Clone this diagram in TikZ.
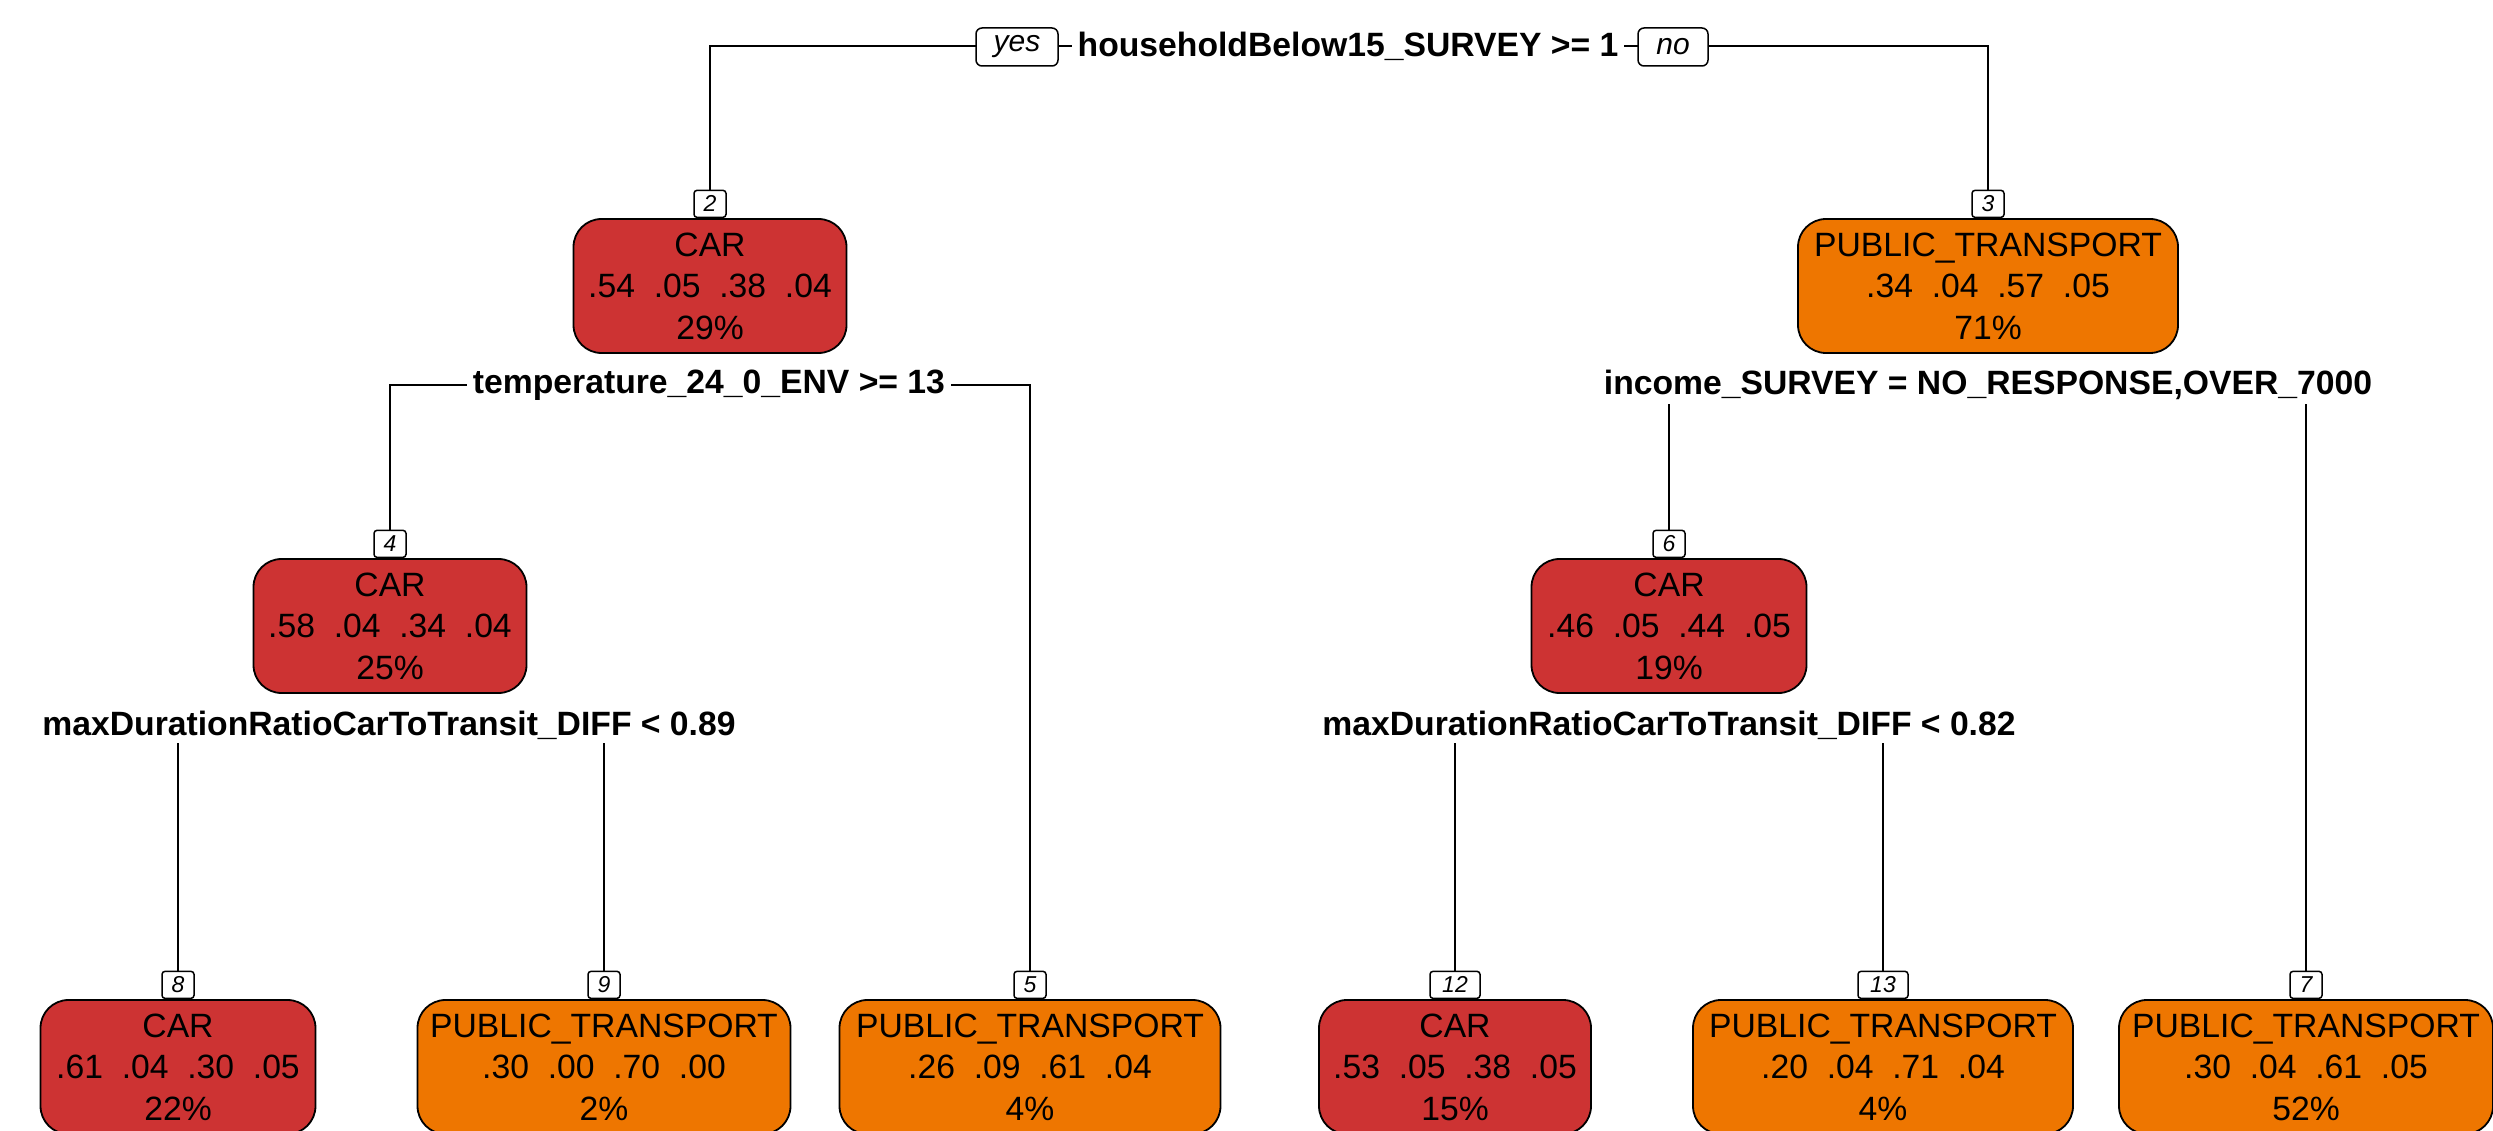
\documentclass[tikz,border=0pt]{standalone}
\usepackage{fontspec}
\setmainfont{Liberation Sans}
\definecolor{carred}{RGB}{205,51,51}
\definecolor{ptorange}{RGB}{238,118,0}
\pgfdeclarelayer{bg}
\pgfdeclarelayer{lines}
\pgfsetlayers{bg,lines,main}
\tikzset{
 leafbox/.style={draw=black, line width=1.8pt, rounded corners=28pt, minimum height=134pt, inner sep=0pt, align=center, font=\fontsize{33.7}{41.5}\selectfont},
 carbox/.style={leafbox, fill=carred},
 ptbox/.style={leafbox, fill=ptorange},
 idbox/.style={draw, line width=1.5pt, fill=white, rounded corners=3pt, inner sep=0pt, minimum height=27pt, minimum width=32pt, font=\fontsize{23}{23}\selectfont\itshape, anchor=south},
 splitlab/.style={fill=white, inner xsep=6pt, inner ysep=4pt, font=\fontsize{33.7}{40}\selectfont\bfseries},
 yn/.style={draw, fill=white, line width=1.5pt, rounded corners=6pt, minimum height=38pt, inner sep=0pt, font=\fontsize{30}{30}\selectfont\itshape},
 conn/.style={line width=1.8pt}
}
\begin{document}
\begin{tikzpicture}[x=1pt,y=-1pt]
\begin{pgfonlayer}{bg}
\fill[white] (0,0) rectangle (2493,1131);
\end{pgfonlayer}
\useasboundingbox (0,0) rectangle (2493,1131);

% split labels
\node[splitlab] (s1) at (1348,46) {householdBelow15\_SURVEY >= 1};
\node[yn, minimum width=82pt] (yes) at (1017,47) {yes};
\node[yn, minimum width=70pt] (no) at (1673,47) {no};
\node[splitlab] (s2) at (709,385) {temperature\_24\_0\_ENV >= 13};
\node[splitlab] (s3) at (1988,385) {income\_SURVEY = NO\_RESPONSE,OVER\_7000};
\node[splitlab] (s4) at (389,725) {maxDurationRatioCarToTransit\_DIFF < 0.89};
\node[splitlab] (s6) at (1669,725) {maxDurationRatioCarToTransit\_DIFF < 0.82};

% tree nodes
\node[carbox, minimum width=273pt] (n2) at (710,286) {CAR\\.54~~.05~~.38~~.04\\29\%};
\node[ptbox, minimum width=380pt] (n3) at (1988,286) {PUBLIC\_TRANSPORT\\.34~~.04~~.57~~.05\\71\%};
\node[carbox, minimum width=273pt] (n4) at (390,626) {CAR\\.58~~.04~~.34~~.04\\25\%};
\node[carbox, minimum width=275pt] (n6) at (1669,626) {CAR\\.46~~.05~~.44~~.05\\19\%};
\node[carbox, minimum width=275pt] (n8) at (178,1067) {CAR\\.61~~.04~~.30~~.05\\22\%};
\node[ptbox, minimum width=373pt] (n9) at (604,1067) {PUBLIC\_TRANSPORT\\.30~~.00~~.70~~.00\\2\%};
\node[ptbox, minimum width=381pt] (n5) at (1030,1067) {PUBLIC\_TRANSPORT\\.26~~.09~~.61~~.04\\4\%};
\node[carbox, minimum width=272pt] (n12) at (1455,1067) {CAR\\.53~~.05~~.38~~.05\\15\%};
\node[ptbox, minimum width=380pt] (n13) at (1883,1067) {PUBLIC\_TRANSPORT\\.20~~.04~~.71~~.04\\4\%};
\node[ptbox, minimum width=374pt] (n7) at (2306,1067) {PUBLIC\_TRANSPORT\\.30~~.04~~.61~~.05\\52\%};

% id boxes
\node[idbox] (l2) at (n2.north) {2};
\node[idbox] (l3) at (n3.north) {3};
\node[idbox] (l4) at (n4.north) {4};
\node[idbox] (l6) at (n6.north) {6};
\node[idbox] (l8) at (n8.north) {8};
\node[idbox] (l9) at (n9.north) {9};
\node[idbox] (l5) at (n5.north) {5};
\node[idbox, minimum width=50pt] (l12) at (n12.north) {12};
\node[idbox, minimum width=50pt] (l13) at (n13.north) {13};
\node[idbox] (l7) at (n7.north) {7};

% connectors
\begin{pgfonlayer}{lines}
\draw[conn] (l2.north) -- (l2.north |- s1.center) -- (l3.north |- s1.center) -- (l3.north);
\draw[conn] (l4.north) -- (l4.north |- s2.center) -- (l5.north |- s2.center) -- (l5.north);
\draw[conn] (l6.north) -- (l6.north |- s3.center) -- (l7.north |- s3.center) -- (l7.north);
\draw[conn] (l8.north) -- (l8.north |- s4.center) -- (l9.north |- s4.center) -- (l9.north);
\draw[conn] (l12.north) -- (l12.north |- s6.center) -- (l13.north |- s6.center) -- (l13.north);
\end{pgfonlayer}
\end{tikzpicture}
\end{document}
